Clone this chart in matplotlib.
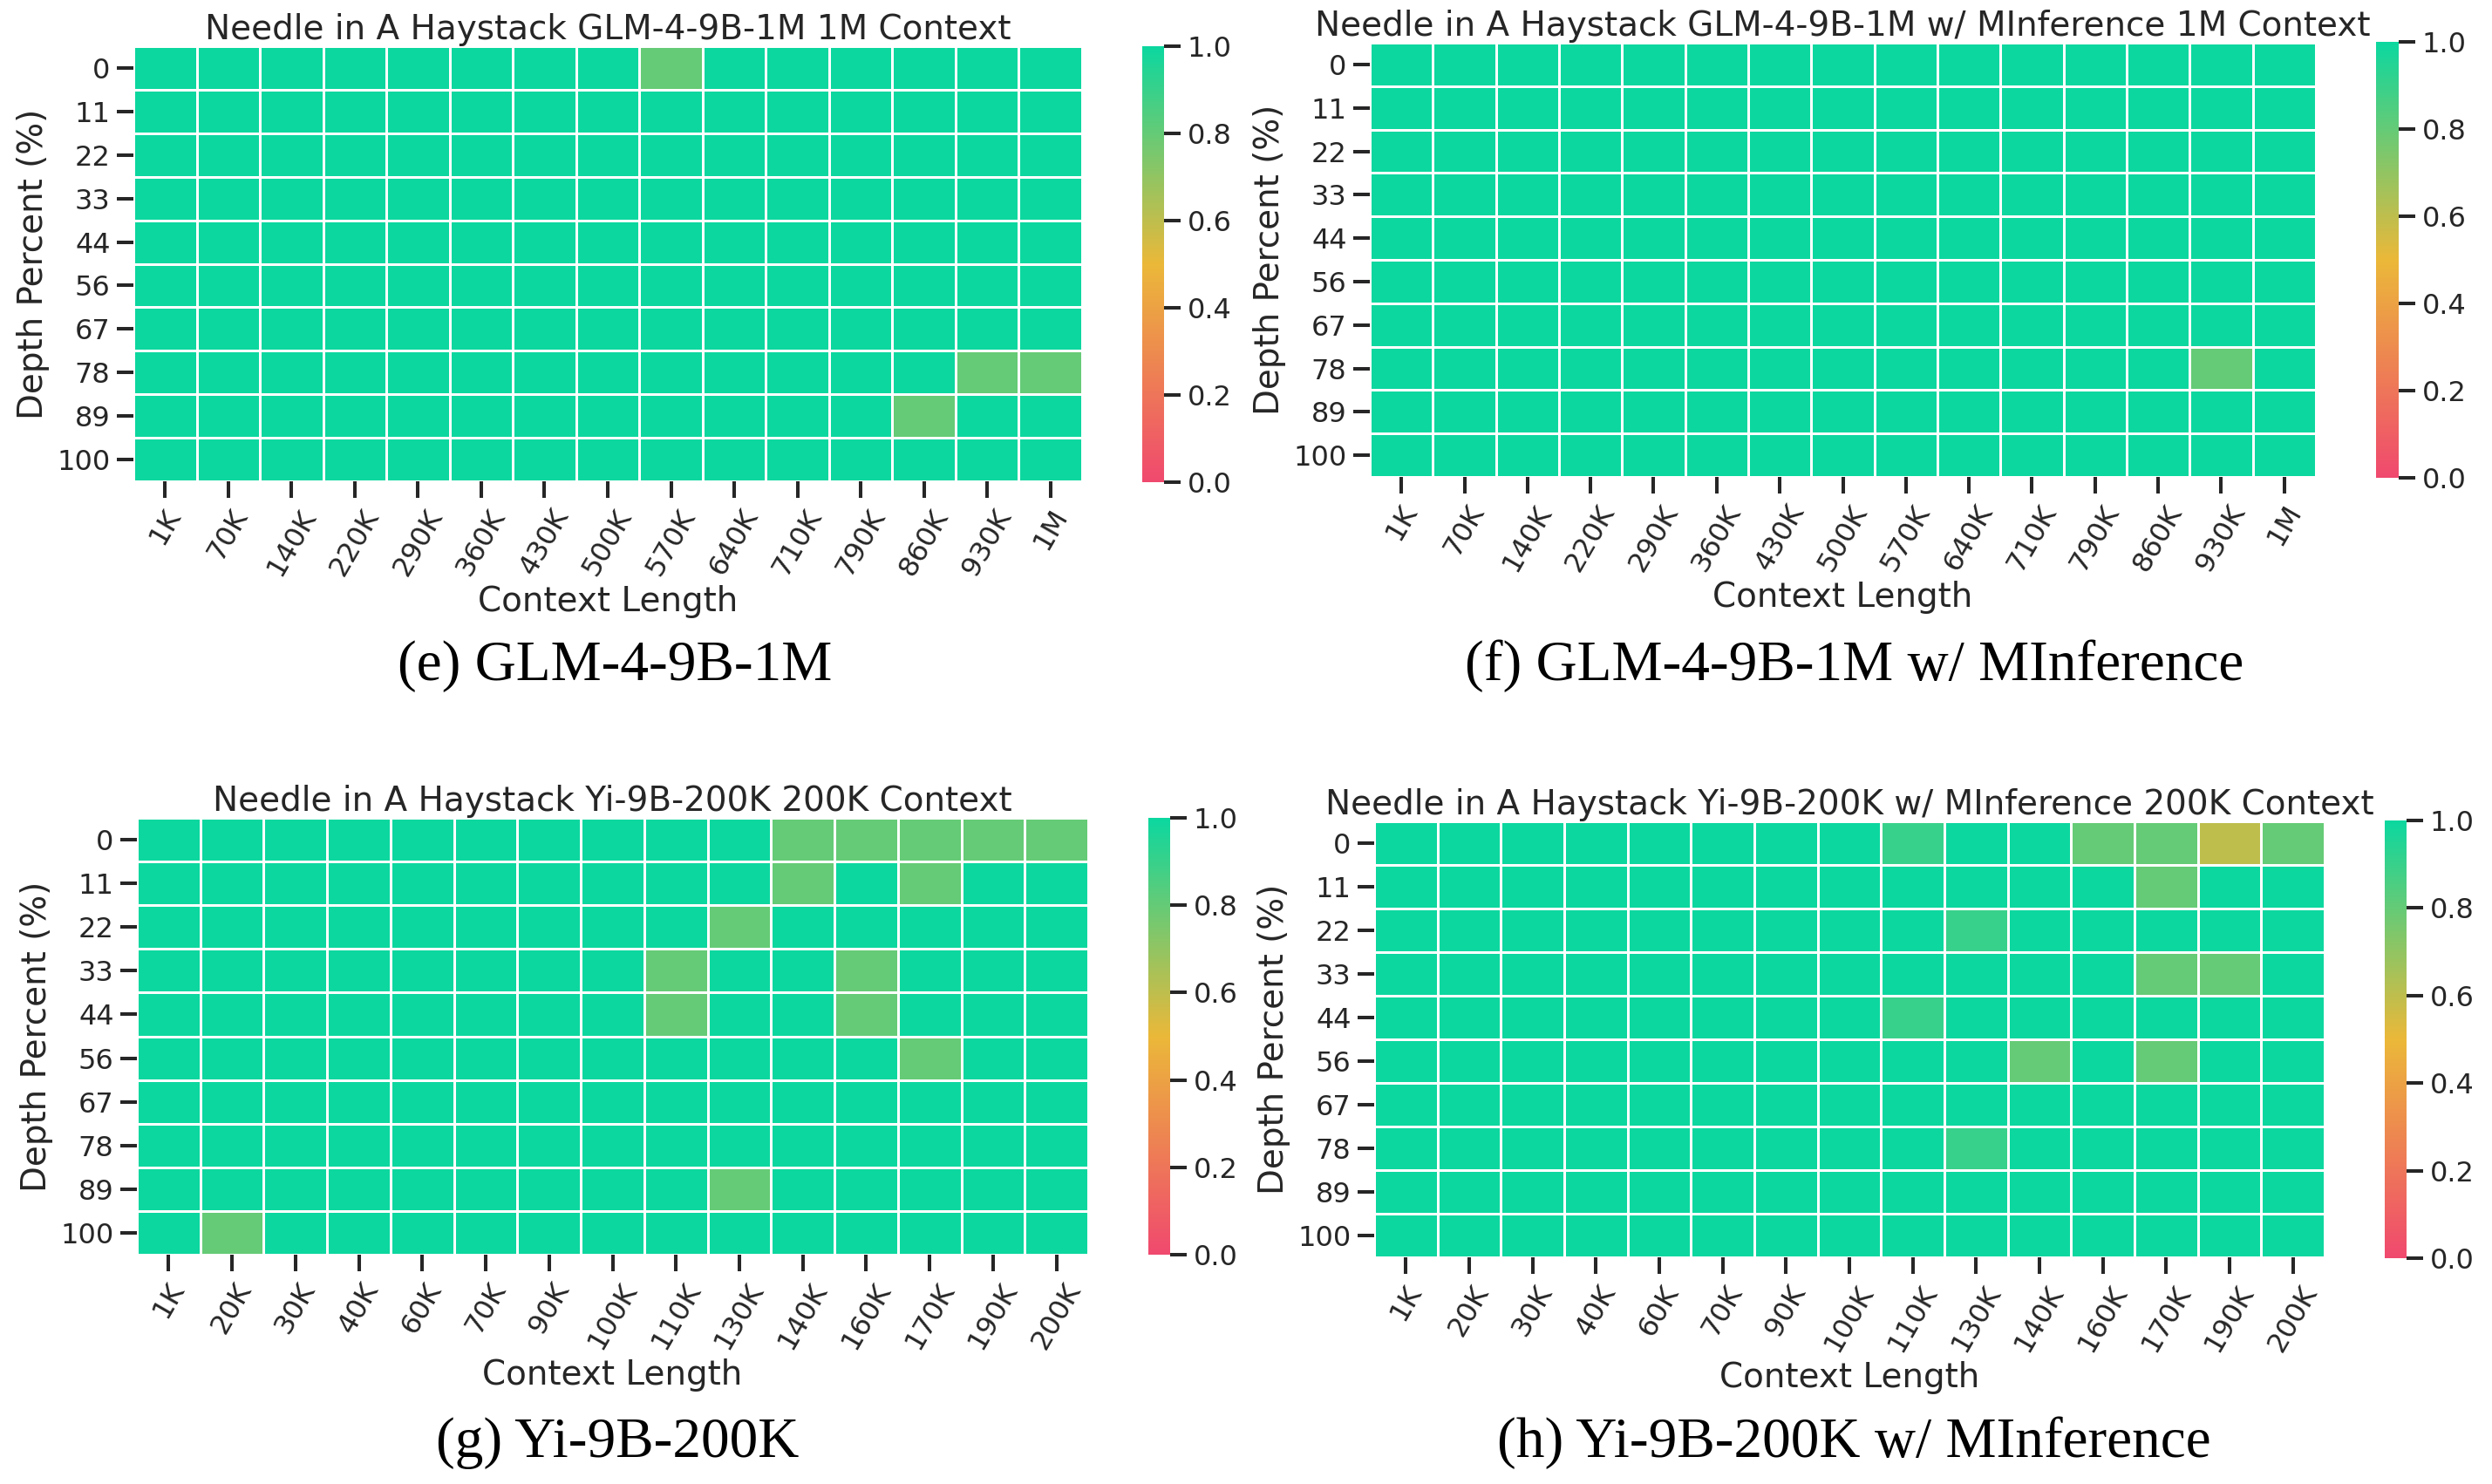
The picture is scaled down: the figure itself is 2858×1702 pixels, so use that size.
import numpy as np
import matplotlib
matplotlib.use("Agg")
import matplotlib.pyplot as plt
from matplotlib.colors import LinearSegmentedColormap

W, H = 2858, 1702
DPI = 100

depths = [0, 11, 22, 33, 44, 56, 67, 78, 89, 100]
glm_lengths = ["1K", "70K", "140K", "220K", "290K", "360K", "430K", "500K",
               "570K", "640K", "710K", "790K", "860K", "930K", "1M"]
yi_lengths = ["1K", "20K", "30K", "40K", "60K", "70K", "90K", "100K",
              "110K", "130K", "140K", "160K", "170K", "190K", "200K"]

glm_scores = [
    [1, 1, 1, 1, 1, 1, 1, 1, .8, 1, 1, 1, 1, 1, 1],
    [1, 1, 1, 1, 1, 1, 1, 1, 1, 1, 1, 1, 1, 1, 1],
    [1, 1, 1, 1, 1, 1, 1, 1, 1, 1, 1, 1, 1, 1, 1],
    [1, 1, 1, 1, 1, 1, 1, 1, 1, 1, 1, 1, 1, 1, 1],
    [1, 1, 1, 1, 1, 1, 1, 1, 1, 1, 1, 1, 1, 1, 1],
    [1, 1, 1, 1, 1, 1, 1, 1, 1, 1, 1, 1, 1, 1, 1],
    [1, 1, 1, 1, 1, 1, 1, 1, 1, 1, 1, 1, 1, 1, 1],
    [1, 1, 1, 1, 1, 1, 1, 1, 1, 1, 1, 1, 1, .8, .8],
    [1, 1, 1, 1, 1, 1, 1, 1, 1, 1, 1, 1, .8, 1, 1],
    [1, 1, 1, 1, 1, 1, 1, 1, 1, 1, 1, 1, 1, 1, 1],
]
glm_minf_scores = [
    [1, 1, 1, 1, 1, 1, 1, 1, 1, 1, 1, 1, 1, 1, 1],
    [1, 1, 1, 1, 1, 1, 1, 1, 1, 1, 1, 1, 1, 1, 1],
    [1, 1, 1, 1, 1, 1, 1, 1, 1, 1, 1, 1, 1, 1, 1],
    [1, 1, 1, 1, 1, 1, 1, 1, 1, 1, 1, 1, 1, 1, 1],
    [1, 1, 1, 1, 1, 1, 1, 1, 1, 1, 1, 1, 1, 1, 1],
    [1, 1, 1, 1, 1, 1, 1, 1, 1, 1, 1, 1, 1, 1, 1],
    [1, 1, 1, 1, 1, 1, 1, 1, 1, 1, 1, 1, 1, 1, 1],
    [1, 1, 1, 1, 1, 1, 1, 1, 1, 1, 1, 1, 1, .8, 1],
    [1, 1, 1, 1, 1, 1, 1, 1, 1, 1, 1, 1, 1, 1, 1],
    [1, 1, 1, 1, 1, 1, 1, 1, 1, 1, 1, 1, 1, 1, 1],
]
yi_scores = [
    [1, 1, 1, 1, 1, 1, 1, 1, 1, 1, .8, .8, .8, .8, .8],
    [1, 1, 1, 1, 1, 1, 1, 1, 1, 1, .8, 1, .8, 1, 1],
    [1, 1, 1, 1, 1, 1, 1, 1, 1, .8, 1, 1, 1, 1, 1],
    [1, 1, 1, 1, 1, 1, 1, 1, .8, 1, 1, .8, 1, 1, 1],
    [1, 1, 1, 1, 1, 1, 1, 1, .8, 1, 1, .8, 1, 1, 1],
    [1, 1, 1, 1, 1, 1, 1, 1, 1, 1, 1, 1, .8, 1, 1],
    [1, 1, 1, 1, 1, 1, 1, 1, 1, 1, 1, 1, 1, 1, 1],
    [1, 1, 1, 1, 1, 1, 1, 1, 1, 1, 1, 1, 1, 1, 1],
    [1, 1, 1, 1, 1, 1, 1, 1, 1, .8, 1, 1, 1, 1, 1],
    [1, .8, 1, 1, 1, 1, 1, 1, 1, 1, 1, 1, 1, 1, 1],
]
yi_minf_scores = [
    [1, 1, 1, 1, 1, 1, 1, 1, .9, 1, 1, .8, .8, .6, .8],
    [1, 1, 1, 1, 1, 1, 1, 1, 1, 1, 1, 1, .8, 1, 1],
    [1, 1, 1, 1, 1, 1, 1, 1, 1, .9, 1, 1, 1, 1, 1],
    [1, 1, 1, 1, 1, 1, 1, 1, 1, 1, 1, 1, .8, .8, 1],
    [1, 1, 1, 1, 1, 1, 1, 1, .9, 1, 1, 1, 1, 1, 1],
    [1, 1, 1, 1, 1, 1, 1, 1, 1, 1, .8, 1, .8, 1, 1],
    [1, 1, 1, 1, 1, 1, 1, 1, 1, 1, 1, 1, 1, 1, 1],
    [1, 1, 1, 1, 1, 1, 1, 1, 1, .9, 1, 1, 1, 1, 1],
    [1, 1, 1, 1, 1, 1, 1, 1, 1, 1, 1, 1, 1, 1, 1],
    [1, 1, 1, 1, 1, 1, 1, 1, 1, 1, 1, 1, 1, 1, 1],
]

titles = [
    "Needle in A Haystack GLM-4-9B-1M 1M Context",
    "Needle in A Haystack GLM-4-9B-1M w/ MInference 1M Context",
    "Needle in A Haystack Yi-9B-200K 200K Context",
    "Needle in A Haystack Yi-9B-200K w/ MInference 200K Context",
]
captions = [
    "(e) GLM-4-9B-1M",
    "(f) GLM-4-9B-1M w/ MInference",
    "(g) Yi-9B-200K",
    "(h) Yi-9B-200K w/ MInference",
]
cbar_ticks = [0.0, 0.2, 0.4, 0.6, 0.8, 1.0]

# layout (pixel boxes: left, top, right, bottom)
heat_boxes = [(153, 53, 1241, 552), (1571, 49, 2656, 547),
              (157, 938, 1248, 1439), (1576, 942, 2666, 1442)]
cbar_boxes = [(1310, 53, 1335, 553), (2725, 48, 2751, 548),
              (1317, 938, 1342, 1439), (2735, 941, 2760, 1443)]
caption_pos = [(705, 764), (2127, 764), (708, 1655), (2126, 1655)]

cmap = LinearSegmentedColormap.from_list("nih", ["#F0496E", "#EBB839", "#0CD79F"])

plt.rcParams.update({
    "font.family": ["DejaVu Sans"],
    "text.color": "#262626",
    "axes.labelcolor": "#262626",
    "xtick.color": "#262626",
    "ytick.color": "#262626",
})

fig = plt.figure(figsize=(W / DPI, H / DPI), dpi=DPI)


def box_to_rect(b):
    l, t, r, bt = b
    return [l / W, 1 - bt / H, (r - l) / W, (bt - t) / H]


datasets = [glm_scores, glm_minf_scores, yi_scores, yi_minf_scores]
xlabels_sets = [glm_lengths, glm_lengths, yi_lengths, yi_lengths]

TICK_LEN = 14
TICK_W = 2.9
TICK_FS = 23
LABEL_FS = 28

for i in range(4):
    data = np.array(datasets[i], dtype=float)
    ax = fig.add_axes(box_to_rect(heat_boxes[i]))
    mesh = ax.pcolormesh(np.arange(data.shape[1] + 1), np.arange(data.shape[0] + 1),
                         data, cmap=cmap, vmin=0, vmax=1,
                         edgecolors="white", linewidth=1.0)
    ax.set_xlim(0, data.shape[1])
    ax.set_ylim(data.shape[0], 0)
    for s in ax.spines.values():
        s.set_visible(False)
    ax.set_xticks(np.arange(data.shape[1]) + 0.5)
    ax.set_xticklabels(xlabels_sets[i], rotation=60)
    ax.set_yticks(np.arange(data.shape[0]) + 0.5)
    ax.set_yticklabels([str(d) for d in depths], rotation=0)
    ax.tick_params(length=TICK_LEN, width=TICK_W, labelsize=TICK_FS, pad=5)
    ax.set_xlabel("Context Length", fontsize=LABEL_FS, labelpad=4)
    ax.set_ylabel("Depth Percent (%)", fontsize=LABEL_FS, labelpad=6)
    ax.set_title(titles[i], fontsize=LABEL_FS, pad=4)

    cax = fig.add_axes(box_to_rect(cbar_boxes[i]))
    cb = fig.colorbar(mesh, cax=cax)
    cb.outline.set_visible(False)
    cb.set_ticks(cbar_ticks)
    cb.set_ticklabels([f"{t:.1f}" for t in cbar_ticks])
    cax.tick_params(length=TICK_LEN, width=TICK_W, labelsize=TICK_FS, pad=5)

    cx, cy = caption_pos[i]
    fig.text(cx / W, 1 - cy / H, captions[i], ha="center", va="center",
             fontsize=47, family=["Liberation Serif", "DejaVu Serif"], color="black")

fig.savefig("out.png", dpi=DPI, facecolor="white")
